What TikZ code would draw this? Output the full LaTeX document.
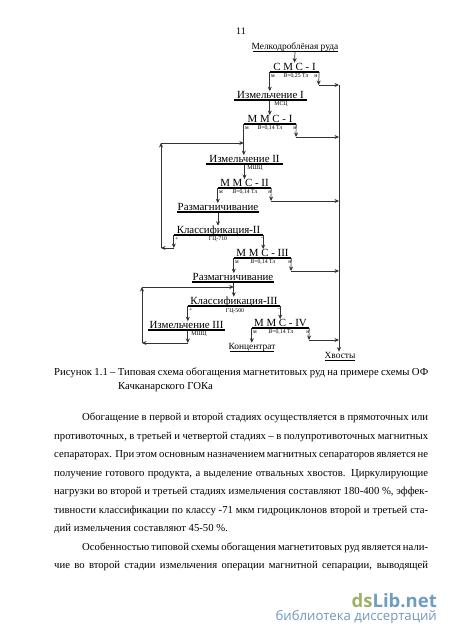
\documentclass[tikz,border=0pt]{standalone}
\usepackage{fontspec}
\usetikzlibrary{arrows.meta}
\setmainfont{Liberation Serif}
\newfontfamily\marksans{Open Sans}
\newcommand{\fitline}[2]{\makebox[#1pt][s]{#2}}
\definecolor{markgreen}{HTML}{9DB06A}
\definecolor{markgray}{HTML}{6F9DBE}
\definecolor{markblue}{HTML}{7197BC}

\begin{document}
\begin{tikzpicture}[
  x=1pt,
  y=-1pt,
  every node/.style={inner sep=0pt},
  flow/.style={black!80, line width=0.7pt, -{Stealth[length=4.5pt,width=4pt]}},
  bar/.style={fill=black, minimum height=1.3pt, anchor=center},
  unit/.style={anchor=base, font=\fontsize{10.9}{13}\selectfont},
  tiny/.style={font=\fontsize{5.8}{6}\selectfont},
  product/.style={anchor=base, font=\fontsize{9.4}{11}\selectfont},
  rule/.style={fill=black, minimum height=0.5pt},
  bodyline/.style={anchor=base west, font=\fontsize{10.7}{13}\selectfont}
]
  % ---- page size of the scan ----
  \useasboundingbox (0,0) rectangle (450,637);

  \node[anchor=base, font=\fontsize{10}{12}\selectfont] (pageno) at (241,34) {11};

  % ---- feed ----
  \node[product] (feed) at (295,49.5) {Мелкодроблёная руда};
  \node[rule, minimum width=85pt] (feedline) at (295,51.5) {};

  % ---- stage I ----
  \node[unit] (tSmsI) at (294.5,70) {С М С - I};
  \node[bar, minimum width=49pt] (bSmsI) at (294.5,72) {};
  \node[tiny] (mSmsI) at (273,76) {м};
  \node[tiny] (fSmsI) at (296,76) {\textit{В}=0,25 Тл};
  \node[tiny] (nSmsI) at (316,76) {н};

  \node[unit] (tIzmI) at (270.5,98.5) {Измельчение I};
  \node[bar, minimum width=73pt] (bIzmI) at (270.5,100) {};
  \node[tiny] (dIzmI) at (281,104) {МСЦ};

  \node[unit] (tMmsI) at (270,122.5) {М М С - I};
  \node[bar, minimum width=52pt] (bMmsI) at (270,124) {};
  \node[tiny] (mMmsI) at (247,128) {м};
  \node[tiny] (fMmsI) at (270,128) {\textit{В}=0,14 Тл};
  \node[tiny] (nMmsI) at (295,128) {н};

  % ---- stage II ----
  \node[unit] (tIzmII) at (244.5,162.5) {Измельчение II};
  \node[bar, minimum width=77pt] (bIzmII) at (244.5,164) {};
  \node[tiny] (dIzmII) at (255,168) {МШЦ};

  \node[unit] (tMmsII) at (244.5,186.5) {М М С - II};
  \node[bar, minimum width=53pt] (bMmsII) at (244.5,188) {};
  \node[tiny] (mMmsII) at (221,192) {м};
  \node[tiny] (fMmsII) at (245,192) {\textit{В}=0,14 Тл};
  \node[tiny] (nMmsII) at (270,192) {н};

  \node[unit] (tDemII) at (218,210.5) {Размагничивание};
  \node[bar, minimum width=82pt] (bDemII) at (218,212) {};

  \node[unit] (tClsII) at (218.5,233.5) {Классификация-II};
  \node[bar, minimum width=89pt] (bClsII) at (218.5,235) {};
  \node[tiny] (pClsII) at (177,239) {+};
  \node[tiny] (dClsII) at (218,239) {ГЦ-710};
  \node[tiny] (qClsII) at (262,239) {-};

  % ---- stage III ----
  \node[unit] (tMmsIII) at (262.5,256.5) {М М С - III};
  \node[bar, minimum width=57pt] (bMmsIII) at (262.5,258) {};
  \node[tiny] (mMmsIII) at (237,262) {м};
  \node[tiny] (fMmsIII) at (263,262) {\textit{В}=0,14 Тл};
  \node[tiny] (nMmsIII) at (290,262) {н};

  \node[unit] (tDemIII) at (233,280.5) {Размагничивание};
  \node[bar, minimum width=82pt] (bDemIII) at (233,282) {};

  \node[unit] (tClsIII) at (234,304.5) {Классификация-III};
  \node[bar, minimum width=92pt] (bClsIII) at (234,306) {};
  \node[tiny] (pClsIII) at (191,310) {+};
  \node[tiny] (dClsIII) at (235,311) {ГЦ-500};
  \node[tiny] (qClsIII) at (279,310) {-};

  \node[unit] (tIzmIII) at (186.5,328.5) {Измельчение III};
  \node[bar, minimum width=77pt] (bIzmIII) at (186.5,330) {};
  \node[tiny] (dIzmIII) at (199,334) {МШЦ};

  % ---- stage IV ----
  \node[unit] (tMmsIV) at (280.5,326.5) {М М С - IV};
  \node[bar, minimum width=57pt] (bMmsIV) at (280.5,328) {};
  \node[tiny] (mMmsIV) at (255,332) {м};
  \node[tiny] (fMmsIV) at (281,332) {\textit{В}=0,14 Тл};
  \node[tiny] (nMmsIV) at (308,332) {н};

  \node[product] (conc) at (252,349) {Концентрат};
  \node[rule, minimum width=44pt] (concline) at (252,350.8) {};
  \node[product] (tails) at (340,358) {Хвосты};
  \node[rule, minimum width=30pt] (tailsline) at (340,360) {};

  % ---- free ends of the connectors ----
  \coordinate (dropSmsI) at (318.5,85);
  \coordinate (dropMmsI) at (296,137);
  \coordinate (dropMmsII) at (271,201);
  \coordinate (dropMmsIII) at (291,271);
  \coordinate (dropMmsIV) at (309,340);
  \coordinate (waste) at (339,85);
  \coordinate (backII) at (161,248);
  \coordinate (topII) at (161,143);
  \coordinate (backIII) at (142,343);
  \coordinate (topIII) at (142,287);

  % ---- main line ----
  \draw[flow] (feedline) -- (tSmsI.north);
  \draw[flow] (bSmsI.west) -- (tIzmI.north -| bSmsI.west);
  \draw[flow] (bIzmI.south -| bSmsI.west) -- (tMmsI.north -| bSmsI.west);
  \draw[flow] (bMmsI.west) -- (tIzmII.north -| bMmsI.west);
  \draw[flow] (bIzmII.south) -- (tMmsII.north -| bIzmII.south);
  \draw[flow] (bMmsII.west) -- (tDemII.north -| bMmsII.west);
  \draw[flow] (bDemII.south) -- (tClsII.north -| bDemII.south);
  \draw[flow] (bClsII.east) -- (tMmsIII.north -| bClsII.east);
  \draw[flow] (bMmsIII.west) -- (tDemIII.north -| bMmsIII.west);
  \draw[flow] (bDemIII.south -| bMmsIII.west) -- (tClsIII.north -| bMmsIII.west);
  \draw[flow] (bClsIII.west) -- (tIzmIII.north -| bClsIII.west);
  \draw[flow] (bClsIII.east) -- (tMmsIV.north -| bClsIII.east);
  \draw[flow] (bMmsIV.west) -- (conc.north -| bMmsIV.west);

  % ---- recycle loops ----
  \draw[flow] (bClsII.west) -- (backII -| bClsII.west);
  \draw[flow] (backII -| bClsII.west) -- (backII);
  \draw[flow] (backII) -- (topII);
  \draw[flow] (topII) -- (topII -| bMmsI.west);
  \draw[flow] (bIzmIII.south -| bClsIII.west) -- (backIII -| bClsIII.west);
  \draw[flow] (backIII -| bClsIII.west) -- (backIII);
  \draw[flow] (backIII) -- (topIII);
  \draw[flow] (topIII) -- (topIII -| bMmsIII.west);

  % ---- tailings collector ----
  \draw[flow] (waste) -- (waste |- tails.north);
  \draw[flow] (bSmsI.east) -- (dropSmsI);
  \draw[flow] (dropSmsI) -- (waste);
  \draw[flow] (bMmsI.east) -- (dropMmsI);
  \draw[flow] (dropMmsI) -- (dropMmsI -| waste);
  \draw[flow] (bMmsII.east) -- (dropMmsII);
  \draw[flow] (dropMmsII) -- (dropMmsII -| waste);
  \draw[flow] (bMmsIII.east) -- (dropMmsIII);
  \draw[flow] (dropMmsIII) -- (dropMmsIII -| waste);
  \draw[flow] (bMmsIV.east) -- (dropMmsIV);
  \draw[flow] (dropMmsIV) -- (dropMmsIV -| waste);

  % ---- caption ----
  \node[bodyline] (capA) at (54,375) {\fitline{374}{Рисунок 1.1 – Типовая схема обогащения магнетитовых руд на примере схемы ОФ}};
  \node[bodyline] (capB) at (118,389) {Качканарского ГОКа};

  % ---- page text ----
  \node[bodyline] (lineA) at (82,420.5) {\fitline{346}{Обогащение в первой и второй стадиях осуществляется в прямоточных или}};
  \node[bodyline] (lineB) at (54,439) {\fitline{374}{противоточных, в третьей и четвертой стадиях – в полупротивоточных магнитных}};
  \node[bodyline] (lineC) at (54,457.5) {\fitline{374}{сепараторах. При этом основным назначением магнитных сепараторов является не}};
  \node[bodyline] (lineD) at (54,476) {\fitline{374}{получение готового продукта, а выделение отвальных хвостов. Циркулирующие}};
  \node[bodyline] (lineE) at (54,494.5) {\fitline{374}{нагрузки во второй и третьей стадиях измельчения составляют 180-400 \%, эффек-}};
  \node[bodyline] (lineF) at (54,513) {\fitline{374}{тивности классификации по классу -71 мкм гидроциклонов второй и третьей ста-}};
  \node[bodyline] (lineG) at (54,531.5) {дий измельчения составляют 45-50 \%.};
  \node[bodyline] (lineH) at (82,550) {\fitline{346}{Особенностью типовой схемы обогащения магнетитовых руд является нали-}};
  \node[bodyline] (lineI) at (54,568.5) {\fitline{374}{чие во второй стадии измельчения операции магнитной сепарации, выводящей}};

  % ---- site mark ----
  \node[anchor=base east, font=\marksans\bfseries\fontsize{18.5}{20}\selectfont] (mark) at (437,607) {\textcolor{markgreen}{ds}\textcolor{markgray}{Lib.net}};
  \node[anchor=base east, font=\marksans\fontsize{13.2}{15}\selectfont, text=markblue] (markB) at (437,620.5) {библиотека диссертаций};
\end{tikzpicture}
\end{document}
